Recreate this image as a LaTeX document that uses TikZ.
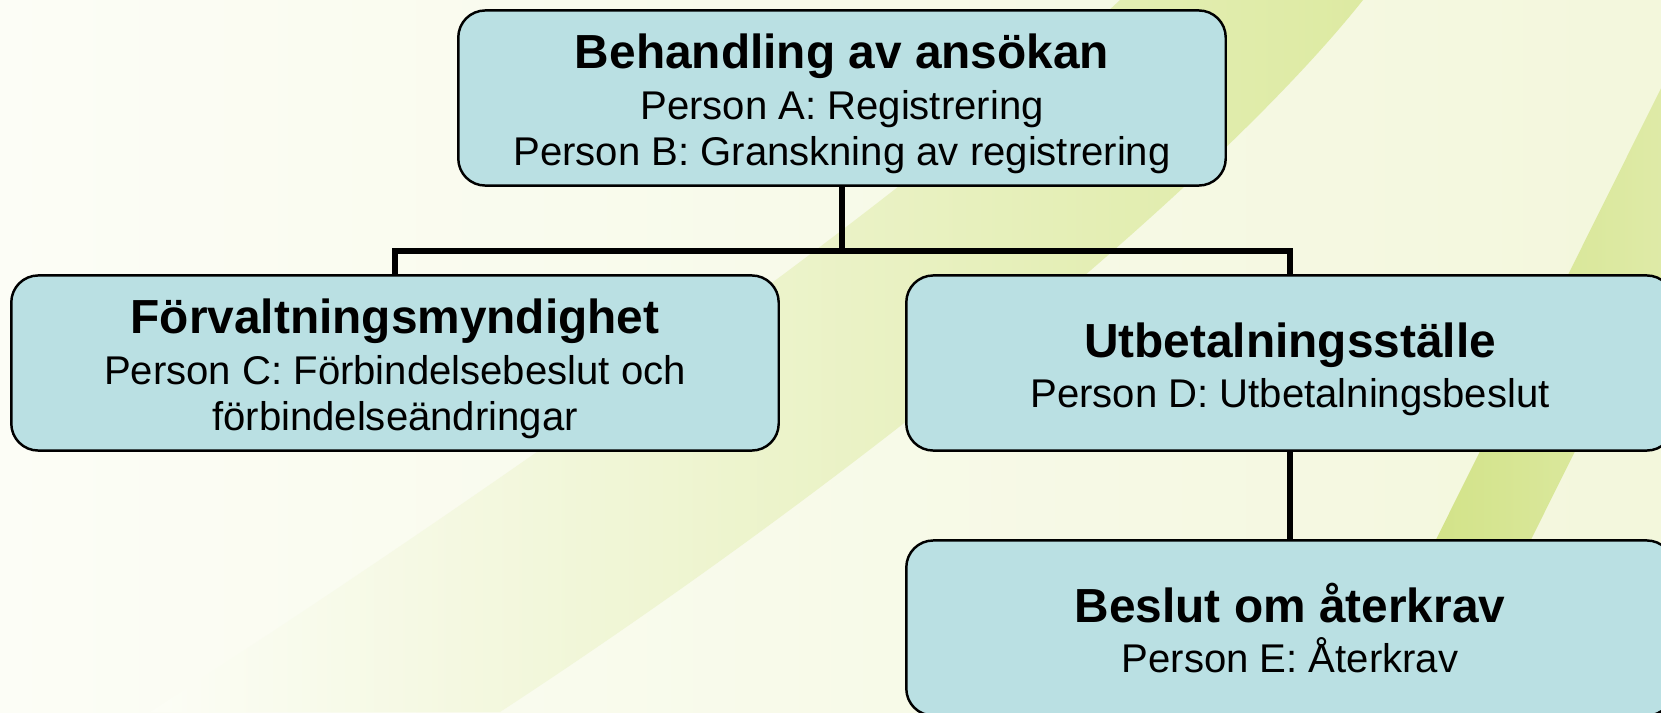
\documentclass[tikz,border=0pt]{standalone}
\usepackage{fontspec}
\setmainfont{Liberation Sans}
\definecolor{boxfill}{HTML}{BAE0E3}
\definecolor{bgcream}{HTML}{F3F7DC}
\definecolor{bgwhite}{HTML}{FCFDF6}
\definecolor{bandgreen}{HTML}{DDEAA2}
\definecolor{stripegreen}{HTML}{CEE07E}
\newcommand{\titlefont}{\fontsize{13.6}{16}\selectfont\bfseries}
\newcommand{\subfont}{\fontsize{11.4}{13.3}\selectfont}
\newcommand{\topstrut}{\rule{0pt}{14pt}}
\newcommand{\botstrut}{\rule[-3pt]{0pt}{3pt}}
\tikzset{
  orgbox/.style={draw, fill=boxfill, rounded corners=0.27cm, minimum width=7.67cm, minimum height=1.75cm, align=center, line width=0.7pt, font=\subfont, inner sep=0pt},
  conn/.style={line width=1.8pt}
}
\begin{document}
\begin{tikzpicture}[x=0.01cm, y=-0.01cm]
        \clip (0,0) rectangle (1661,712);
        % background
        \shade[left color=bgwhite, right color=bgcream] (0,0) rectangle (1661,712);
        \shade[left color=bgwhite, right color=bandgreen] (150,712) .. controls (600,420) and (950,160) .. (1120,0) -- (1363,0) .. controls (1220,180) and (870,470) .. (500,712) -- cycle;
        \shade[left color=stripegreen, right color=bandgreen!60!bgcream] (1350,712) -- (1705,0) -- (1800,0) -- (1445,712) -- cycle;

        \node[orgbox] (appl) at (842,98) {\topstrut{\titlefont Behandling av ansökan}\\[1pt]Person A: Registrering\\Person B: Granskning av registrering\botstrut};
        \node[orgbox] (admin) at (395,363) {\topstrut{\titlefont Förvaltningsmyndighet}\\[1pt]Person C: Förbindelsebeslut och\\förbindelseändringar\botstrut};
        \node[orgbox] (pay) at (1290,363) {\topstrut{\titlefont Utbetalningsställe}\\[1pt]Person D: Utbetalningsbeslut\botstrut};
        \node[orgbox] (recov) at (1290,628) {\topstrut{\titlefont Beslut om återkrav}\\[1pt]Person E: Återkrav\botstrut};

        \coordinate (bus) at (842,251);
        \draw[conn] (appl) -- (bus);
        \draw[conn] (admin.north) |- (bus) -| (pay.north);
        \draw[conn] (pay) -- (recov);
\end{tikzpicture}
\end{document}
